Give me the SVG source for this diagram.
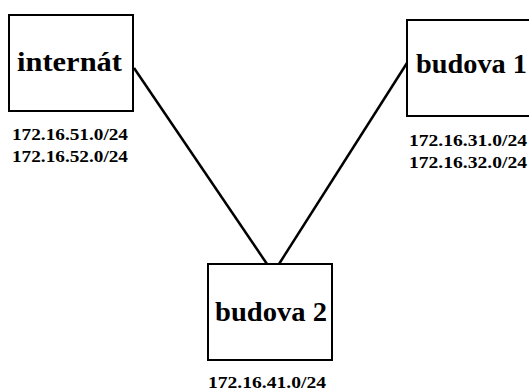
<svg xmlns="http://www.w3.org/2000/svg" width="529" height="390" viewBox="0 0 529 390">
  <style>
    .box { fill: #ffffff; stroke: #000000; stroke-width: 2; }
    .link { stroke: #000000; stroke-width: 2.5; fill: none; }
    .name { font-family: "Liberation Serif", "Times New Roman", serif; font-weight: bold; font-size: 27px; fill: #000000; }
    .net { font-family: "Liberation Serif", "Times New Roman", serif; font-weight: bold; font-size: 16px; fill: #000000; }
  </style>
  <rect width="529" height="390" fill="#ffffff"/>

  <g id="connectors">
    <line class="link" x1="134" y1="68" x2="267" y2="264"/>
    <line class="link" x1="407" y1="63" x2="279" y2="264"/>
  </g>

  <g id="internat">
    <rect class="box" x="9" y="15" width="124" height="96"/>
    <text class="name" x="17" y="71" textLength="105" lengthAdjust="spacingAndGlyphs">internát</text>
    <text class="net" x="12" y="140" textLength="116" lengthAdjust="spacingAndGlyphs">172.16.51.0/24</text>
    <text class="net" x="12" y="162" textLength="116" lengthAdjust="spacingAndGlyphs">172.16.52.0/24</text>
  </g>

  <g id="budova1">
    <rect class="box" x="407" y="20" width="130" height="96"/>
    <text class="name" x="416" y="73" textLength="111" lengthAdjust="spacingAndGlyphs">budova 1</text>
    <text class="net" x="409" y="146" textLength="118" lengthAdjust="spacingAndGlyphs">172.16.31.0/24</text>
    <text class="net" x="409" y="168" textLength="118" lengthAdjust="spacingAndGlyphs">172.16.32.0/24</text>
  </g>

  <g id="budova2">
    <rect class="box" x="208" y="264" width="124" height="96"/>
    <text class="name" x="215" y="321" textLength="112" lengthAdjust="spacingAndGlyphs">budova 2</text>
    <text class="net" x="208" y="388" textLength="118" lengthAdjust="spacingAndGlyphs">172.16.41.0/24</text>
  </g>
</svg>
